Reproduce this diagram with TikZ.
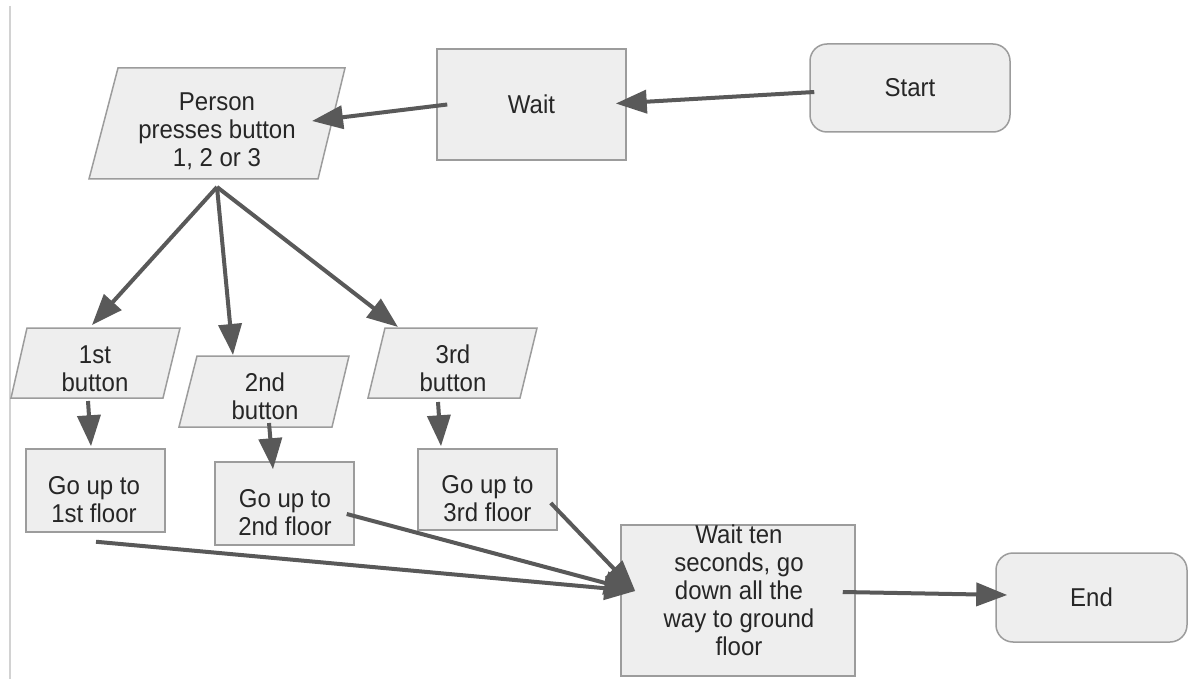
\documentclass[tikz,border=0pt]{standalone}
\usepackage{fontspec}
\setmainfont[FakeStretch=0.93]{Liberation Sans}
\usetikzlibrary{arrows.meta,calc}
\definecolor{boxfill}{HTML}{EEEEEE}
\definecolor{boxline}{HTML}{9C9C9C}
\definecolor{arrowc}{HTML}{595959}
\definecolor{txtc}{HTML}{262626}
\definecolor{rulec}{HTML}{D2D2D2}
\begin{document}
\begin{tikzpicture}[x=1pt,y=-1pt,
  shapebox/.style={draw=boxline,fill=boxfill,line width=1.5pt},
  roundbox/.style={shapebox,rounded corners=17pt},
  lbl/.style={text=txtc,font=\fontsize{25.8}{28}\selectfont,align=center,inner sep=0pt},
  arr/.style={draw=arrowc,line width=4pt,-{Triangle[length=31pt,width=23pt]}},
]
\useasboundingbox (0,0) rectangle (1189,679);
\fill[white] (0,0) rectangle (1189,679);
% left rule
\draw[rulec,line width=2pt] (9.5,6) -- (9.5,679);

% rectangles / rounded boxes
\node[roundbox,lbl,minimum width=200pt,minimum height=88pt] (start) at (910,88) {Start};
\node[shapebox,lbl,minimum width=189pt,minimum height=111pt] (wait) at (531.5,104.5) {Wait};
\node[roundbox,lbl,minimum width=191pt,minimum height=89pt] (endn) at (1091.5,597.5) {End};
\node[shapebox,minimum width=139pt,minimum height=83pt,inner sep=0pt] (g1) at (95.5,490.5) {};
\node[shapebox,minimum width=139pt,minimum height=83pt,inner sep=0pt] (g2) at (284.5,503.5) {};
\node[shapebox,minimum width=139pt,minimum height=81pt,inner sep=0pt] (g3) at (487.5,489.5) {};
\node[shapebox,minimum width=234pt,minimum height=151pt,inner sep=0pt] (fin) at (738,600.5) {};

% parallelograms
\draw[shapebox] (118,68) -- (345,68) -- (318,179) -- (89,179) -- cycle;
\draw[shapebox] (27,328) -- (180,328) -- (163,398) -- (11,398) -- cycle;
\draw[shapebox] (197,356) -- (349,356) -- (332,427) -- (179,427) -- cycle;
\draw[shapebox] (385,328) -- (537,328) -- (520,398) -- (368,398) -- cycle;

% texts
\node[lbl] (person) at (217,131) {Person\\presses button\\1, 2 or 3};
\node[lbl] (b1) at (95,368.5) {1st\\button};
\node[lbl] (b2) at (265,396.5) {2nd\\button};
\node[lbl] (b3) at (453,368.5) {3rd\\button};
\node[lbl] (g1t) at (94,499.5) {Go up to\\1st floor};
\node[lbl] (g2t) at (285,512.5) {Go up to\\2nd floor};
\node[lbl] (g3t) at (487.5,498.5) {Go up to\\3rd floor};
\node[lbl] (fint) at (739,590.5) {Wait ten\\seconds, go\\down all the\\way to ground\\floor};

\coordinate (fork) at ($(person)+(0,56)$);

% connectors
\draw[arr] ([shift={(5,4)}]start.west) -- ([shift={(-11,-1)}]wait.east);
\draw[arr] ([shift={(11,0)}]wait.west) -- ($(person)+(95,-10)$);
\draw[arr] (fork) -- ($(b1)+(-3,-43.5)$);
\draw[arr] (fork) -- ($(b2)+(-32,-41.5)$);
\draw[arr] (fork) -- ($(b3)+(-55,-41.5)$);
\draw[arr] ($(b1)+(-7,32.5)$) -- ([shift={(-4.5,-2)}]g1.north);
\draw[arr] ($(b2)+(4,26.5)$) -- ([shift={(-11.5,8)}]g2.north);
\draw[arr] ($(b3)+(-15,33.5)$) -- ([shift={(-46.5,-2)}]g3.north);
\draw[arr] ([shift={(0.5,9)}]g1.south) -- ([shift={(15,-9.5)}]fin.west);
\draw[arr] ([shift={(-8,10.5)}]g2.east) -- ([shift={(15,-9.5)}]fin.west);
\draw[arr] ([shift={(-7,13.5)}]g3.east) -- ([shift={(15,-9.5)}]fin.west);
\draw[arr] ([shift={(-13,-8.5)}]fin.east) -- ([shift={(12,-2.5)}]endn.west);
\end{tikzpicture}
\end{document}
